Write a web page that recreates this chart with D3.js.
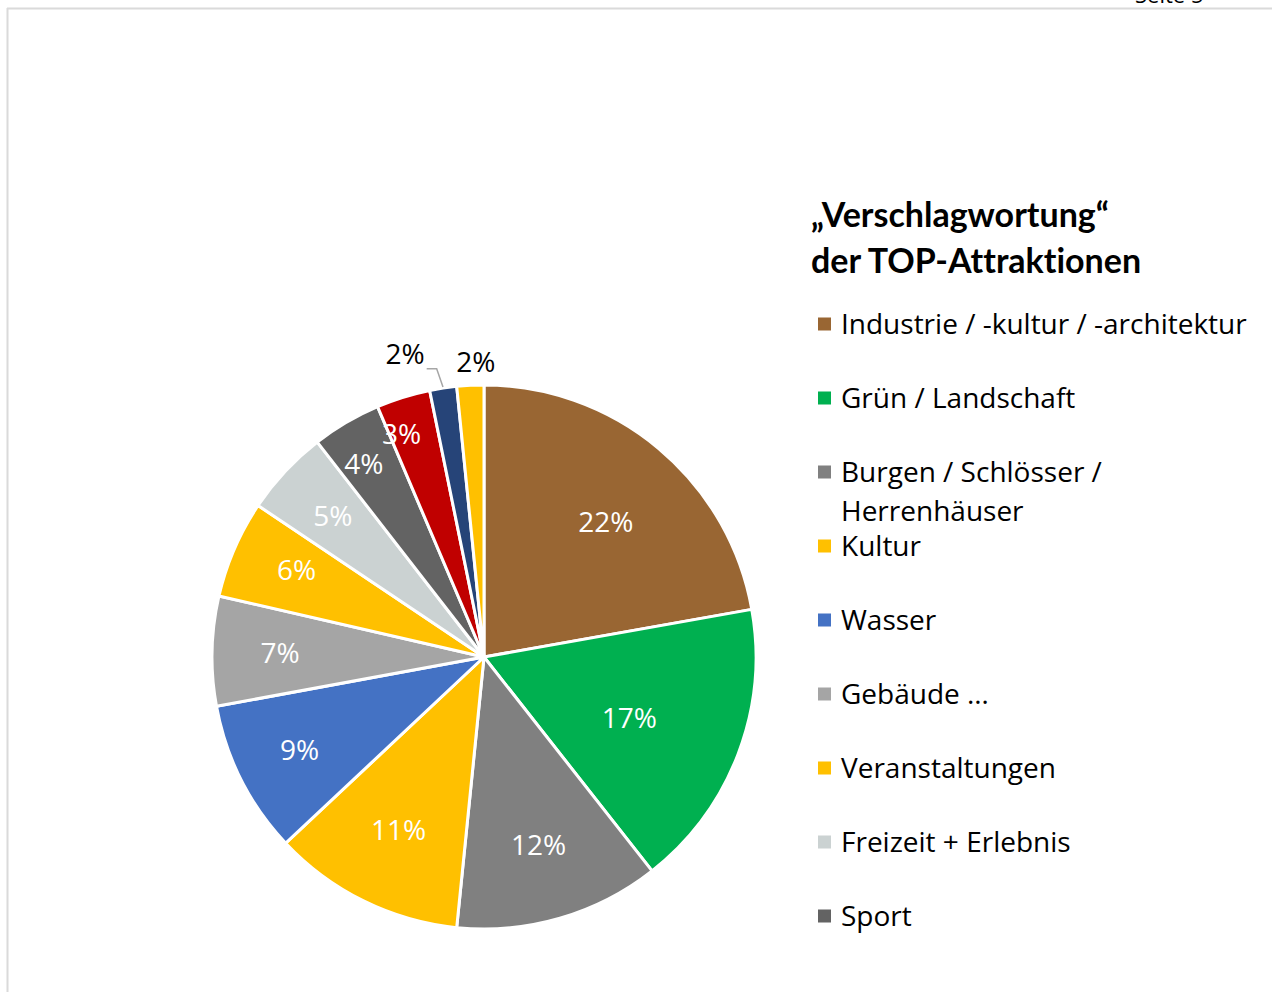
<!DOCTYPE html>
<html>
<head>
<meta charset="utf-8">
<script src="https://cdn.jsdelivr.net/npm/d3@7"></script>
<style>
  body { margin: 0; background: #fff; }
  svg { display: block; }
  text { font-variant-ligatures: none; }
</style>
</head>
<body>
<div id="chart"></div>
<script>
// categories in clockwise order from 12 o'clock
const categories = [
    "Industrie / -kultur / -architektur",
    "Grün / Landschaft",
    "Burgen / Schlösser / Herrenhäuser",
    "Kultur",
    "Wasser",
    "Gebäude …",
    "Veranstaltungen",
    "Freizeit + Erlebnis",
    "Sport",
    "Religion",
    "Museen",
    "Sonstiges"
];
// shares in percent
const shares = [22.2, 17.2, 12.2, 11.4, 9.1, 6.5, 5.8, 5.1, 4.1, 3.2, 1.6, 1.6];
const colors = ["#996633", "#00B050", "#808080", "#FFC000", "#4472C4", "#A5A5A5",
                "#FFC000", "#CBD2D2", "#636363", "#C00000", "#264478", "#FFC000"];
// legend in the original is cut off after "Sport"
const legendCount = 9;
const legendLines = [
    ["Industrie / -kultur / -architektur"],
    ["Grün / Landschaft"],
    ["Burgen / Schlösser /", "Herrenhäuser"],
    ["Kultur"],
    ["Wasser"],
    ["Gebäude …"],
    ["Veranstaltungen"],
    ["Freizeit + Erlebnis"],
    ["Sport"]
];
const titleLines = ["„Verschlagwortung“", "der TOP-Attraktionen"];

const W = 1272, H = 992;
const cx = 484, cy = 657, R = 272;

const svg = d3.select("#chart").append("svg")
    .attr("width", W)
    .attr("height", H);

// page frame
svg.append("line").attr("x1", 7.5).attr("x2", 7.5).attr("y1", 8).attr("y2", H)
    .attr("stroke", "#dadada").attr("stroke-width", 2);
svg.append("line").attr("x1", 7).attr("x2", W).attr("y1", 8.5).attr("y2", 8.5)
    .attr("stroke", "#dadada").attr("stroke-width", 2);
// page number, cut off at the top edge as in the scan
svg.append("text")
    .attr("x", 1135).attr("y", 3)
    .style("font-family", "Open Sans").style("font-size", "22px")
    .text("Seite 5");

const data = categories.map((c, i) => ({ name: c, value: shares[i], color: colors[i] }));

const pie = d3.pie().sort(null).value(d => d.value);
const arcs = pie(data);
const arc = d3.arc().innerRadius(0).outerRadius(R);

const g = svg.append("g").attr("transform", `translate(${cx},${cy})`);

g.selectAll("path.slice")
    .data(arcs)
    .enter().append("path")
    .attr("class", "slice")
    .attr("d", arc)
    .attr("fill", d => d.data.color)
    .attr("stroke", "#fff")
    .attr("stroke-width", 3)
    .attr("stroke-linejoin", "round");

// label placement: radius factor and angle shift (deg), Excel "best fit" look
const labelPos = [
    [0.67, 2], [0.58, 2], [0.72, 0], [0.71, 0], [0.76, 0], [0.75, 0],
    [0.76, 1.5], [0.76, 0], [0.835, -1.5], [0.875, -3], [1.15, -6], [1.085, 1.3]
];
const fmt = v => Math.round(v) + "%";

function polar(r, ang) {
    return [r * Math.sin(ang), -r * Math.cos(ang)];
}

arcs.forEach((d, i) => {
    const mid = (d.startAngle + d.endAngle) / 2 + labelPos[i][1] * Math.PI / 180;
    const p = polar(R * labelPos[i][0], mid);
    const outside = labelPos[i][0] > 1;
    g.append("text")
        .attr("x", p[0]).attr("y", p[1])
        .attr("text-anchor", "middle")
        .attr("dy", "0.36em")
        .style("font-family", "Open Sans")
        .style("font-size", "28px")
        .attr("fill", outside ? "#000" : "#fff")
        .text(fmt(d.data.value));
});

// leader line for the small dark blue slice
{
    const d = arcs[10];
    const mid = (d.startAngle + d.endAngle) / 2;
    const a = polar(R + 1, mid);
    const b = polar(R + 20, mid - 0.012);
    g.append("polyline")
        .attr("points", [a, b, [b[0] - 10, b[1]]].map(p => p.join(",")).join(" "))
        .attr("fill", "none")
        .attr("stroke", "#a6a6a6")
        .attr("stroke-width", 1.5);
}

// title
svg.append("text")
    .attr("x", 811).attr("y", 227)
    .style("font-family", "Lato").style("font-weight", "bold").style("font-size", "34px")
    .selectAll("tspan")
    .data(titleLines)
    .enter().append("tspan")
    .attr("x", 811)
    .attr("dy", (d, i) => i === 0 ? 0 : 46)
    .text(d => d);

// legend
const legend = svg.append("g").attr("transform", "translate(818,324)");
const step = 74;
const lineH = 39;
const items = legend.selectAll("g.item")
    .data(data.slice(0, legendCount))
    .enter().append("g")
    .attr("class", "item")
    .attr("transform", (d, i) => `translate(0,${i * step})`);

items.append("rect")
    .attr("x", 0).attr("y", -6.5)
    .attr("width", 13).attr("height", 13)
    .attr("fill", d => d.color);

items.append("text")
    .attr("x", 23)
    .style("font-family", "Open Sans")
    .style("font-size", "28px")
    .attr("fill", "#000")
    .selectAll("tspan")
    .data((d, i) => legendLines[i])
    .enter().append("tspan")
    .attr("x", 23)
    .attr("y", (t, j) => j * lineH)
    .attr("dy", "0.36em")
    .text(t => t);
</script>
</body>
</html>
